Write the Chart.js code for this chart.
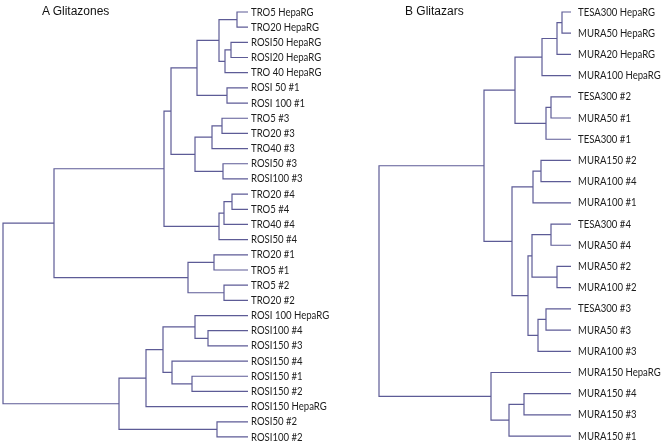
<!DOCTYPE html>
<html>
<head>
<meta charset="utf-8">
<script src="https://cdn.jsdelivr.net/npm/chart.js@4"></script>
<style>
    body { margin: 0; background: #fff; }
    #wrap { position: relative; width: 661px; height: 445px; }
    canvas { position: absolute; top: 0; }
    #chartA { left: 0; }
    #chartB { left: 330px; }
    .panelTitle { position: absolute; top: 4px; font: 12px "Liberation Sans", Arial, sans-serif; color: #111; }
</style>
</head>
<body>
<div id="wrap">
    <canvas id="chartA" width="345" height="445"></canvas>
    <canvas id="chartB" width="331" height="445"></canvas>
    <div class="panelTitle" style="left:42px">A Glitazones</div>
    <div class="panelTitle" style="left:405px">B Glitazars</div>
</div>
<script>
// leaf labels, top to bottom
const labelsA = ['TRO5 HepaRG', 'TRO20 HepaRG', 'ROSI50 HepaRG', 'ROSI20 HepaRG', 'TRO 40 HepaRG',
    'ROSI 50 #1', 'ROSI 100 #1', 'TRO5 #3', 'TRO20 #3', 'TRO40 #3', 'ROSI50 #3', 'ROSI100 #3',
    'TRO20 #4', 'TRO5 #4', 'TRO40 #4', 'ROSI50 #4', 'TRO20 #1', 'TRO5 #1', 'TRO5 #2', 'TRO20 #2',
    'ROSI 100 HepaRG', 'ROSI100 #4', 'ROSI150 #3', 'ROSI150 #4', 'ROSI150 #1', 'ROSI150 #2',
    'ROSI150 HepaRG', 'ROSI50 #2', 'ROSI100 #2'];

// merges: [left, right, height]; ids >= labels.length are earlier merges
const linksA = [
    [0, 1, 0.11], [2, 3, 0.17], [30, 4, 0.23], [29, 31, 0.29], [5, 6, 0.21], [32, 33, 0.51],
    [7, 8, 0.26], [35, 9, 0.36], [10, 11, 0.25], [36, 37, 0.53], [34, 38, 0.77],
    [12, 13, 0.16], [40, 14, 0.24], [41, 15, 0.29], [39, 42, 0.84],
    [16, 17, 0.34], [18, 19, 0.24], [44, 45, 0.60], [43, 46, 1.94],
    [21, 22, 0.40], [20, 48, 0.53], [24, 25, 0.56], [23, 50, 0.76], [49, 51, 0.85], [52, 26, 1.02],
    [27, 28, 0.31], [53, 54, 1.29], [47, 55, 2.45]
];

const labelsB = ['TESA300 HepaRG', 'MURA50 HepaRG', 'MURA20 HepaRG', 'MURA100 HepaRG',
    'TESA300 #2', 'MURA50 #1', 'TESA300 #1', 'MURA150 #2', 'MURA100 #4', 'MURA100 #1',
    'TESA300 #4', 'MURA50 #4', 'MURA50 #2', 'MURA100 #2', 'TESA300 #3', 'MURA50 #3',
    'MURA100 #3', 'MURA150 HepaRG', 'MURA150 #4', 'MURA150 #3', 'MURA150 #1'];

const linksB = [
    [0, 1, 0.09], [21, 2, 0.14], [22, 3, 0.29], [4, 5, 0.20], [24, 6, 0.25], [23, 25, 0.56],
    [7, 8, 0.30], [27, 9, 0.38], [10, 11, 0.20], [12, 13, 0.14], [29, 30, 0.39],
    [14, 15, 0.25], [32, 16, 0.33], [31, 33, 0.43], [28, 34, 0.59], [26, 35, 0.87],
    [18, 19, 0.47], [37, 20, 0.62], [17, 38, 0.80], [36, 39, 1.92]
];

const lineColor = '#5d5b96';

//turns the merges into one bracket dataset per merge
function buildDatasets(labels, links) {
    let nodes = labels.map((l, i) => ({ h: 0, y: i }));
    let datasets = [];
    for (let k = 0; k < links.length; k++) {
        let a = nodes[links[k][0]];
        let b = nodes[links[k][1]];
        let h = links[k][2];
        nodes.push({ h: h, y: (a.y + b.y) / 2 });
        datasets.push({
            data: [{ x: a.h, y: a.y }, { x: h, y: a.y }, { x: h, y: b.y }, { x: b.h, y: b.y }],
            showLine: true,
            borderColor: lineColor,
            borderWidth: 1.2,
            pointRadius: 0,
            fill: false
        });
    }
    return datasets;
}

// writes the leaf names next to the leaf ends (squeezed a bit, the original font is narrow)
const leafLabels = {
    id: 'leafLabels',
    afterDraw(chart, args, opts) {
        let ctx = chart.ctx;
        let xs = chart.scales.x;
        let ys = chart.scales.y;
        let squeeze = 0.87;
        ctx.save();
        ctx.font = '11px Lato, "Open Sans", sans-serif';
        ctx.fillStyle = '#1c1c1c';
        ctx.textBaseline = 'middle';
        opts.names.forEach((name, i) => {
            let x = xs.getPixelForValue(0) + opts.gap;
            let y = ys.getPixelForValue(i);
            ctx.save();
            ctx.translate(x, y);
            ctx.scale(squeeze, 1);
            ctx.fillText(name, 0, 0);
            ctx.restore();
        });
        ctx.restore();
    }
};

function drawDendrogram(id, labels, links, gap, xMin, xMax, yMin, yMax) {
    new Chart(id, {
        type: 'scatter',
        data: { datasets: buildDatasets(labels, links) },
        options: {
            responsive: false,
            animation: false,
            layout: { padding: 0 },
            scales: {
                x: { type: 'linear', reverse: true, min: xMin, max: xMax, display: false },
                y: { type: 'linear', reverse: true, min: yMin, max: yMax, display: false }
            },
            plugins: {
                legend: { display: false },
                tooltip: { enabled: false },
                leafLabels: { names: labels, gap: gap }
            }
        },
        plugins: [leafLabels]
    });
}

drawDendrogram('chartA', labelsA, linksA, 3, -0.97, 2.48, -0.79, 28.53);
drawDendrogram('chartB', labelsB, linksB, 7, -0.90, 2.41, -0.566, 20.42);
</script>
</body>
</html>
